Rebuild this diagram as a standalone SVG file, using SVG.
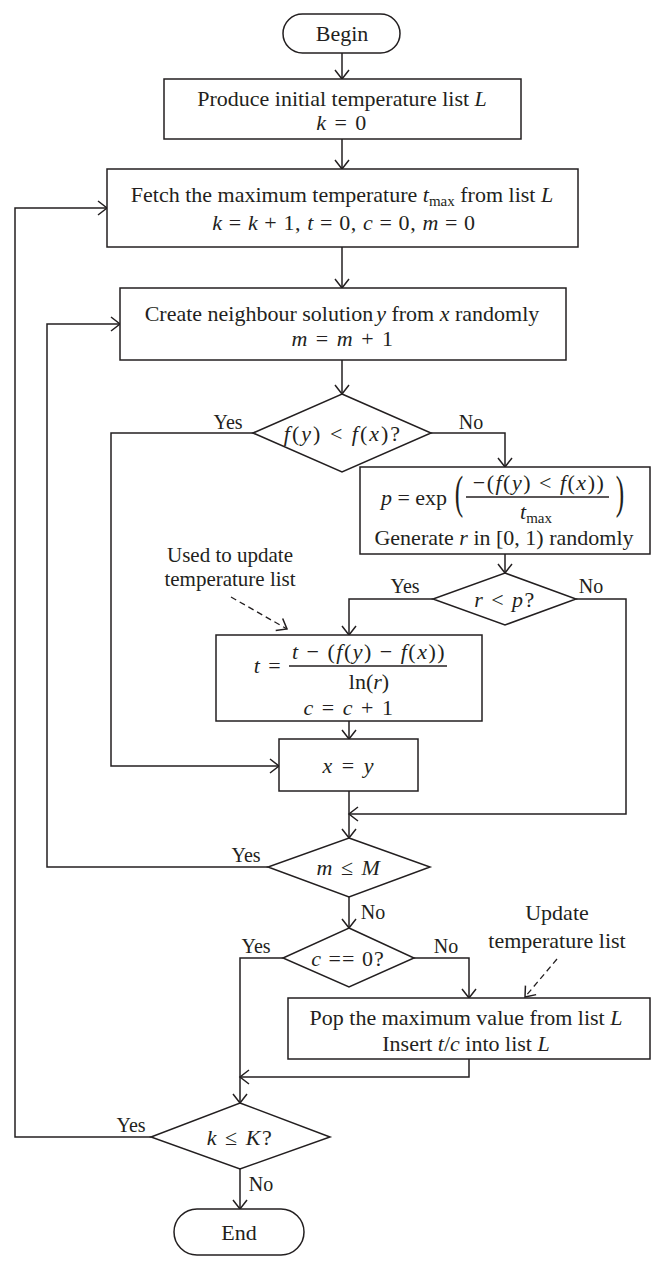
<svg xmlns="http://www.w3.org/2000/svg" width="658" height="1269" viewBox="0 0 658 1269">
<style>
  .n{fill:#fff;stroke:#231f20;stroke-width:1.5}
  .c{fill:none;stroke:#231f20;stroke-width:1.5}
  .d{fill:none;stroke:#231f20;stroke-width:1.3;stroke-dasharray:6,4}
  text{font-family:"Liberation Serif","Times New Roman",serif;font-size:22px;fill:#231f20;text-anchor:middle}
  .l{font-size:20px}
  .i{font-style:italic}
  .s{font-size:15px}
  .m{letter-spacing:1.5px}
  .t{font-size:21px}
</style>
<defs>
  <marker id="a" viewBox="-10 -8 12 16" refX="0" refY="0" markerWidth="12" markerHeight="16" markerUnits="userSpaceOnUse" orient="auto">
    <path d="M-9,-7 L0,0 L-9,7" fill="none" stroke="#231f20" stroke-width="1.5"/>
  </marker>
</defs>
<rect width="658" height="1269" fill="#fff"/>
<g id="connectors">
  <path class="c" d="M342,53 V79" marker-end="url(#a)"/>
  <path class="c" d="M342,139 V169" marker-end="url(#a)"/>
  <path class="c" d="M342,247 V288" marker-end="url(#a)"/>
  <path class="c" d="M342,360 V394" marker-end="url(#a)"/>
  <path class="c" d="M253,433 H111 V766 H279" marker-end="url(#a)"/>
  <path class="c" d="M431,433 H505 V467" marker-end="url(#a)"/>
  <path class="c" d="M505,554 V573" marker-end="url(#a)"/>
  <path class="c" d="M433,599 H349 V635" marker-end="url(#a)"/>
  <path class="c" d="M576,599 H626 V814 H349" marker-end="url(#a)"/>
  <path class="d" d="M231,597 L287,629" marker-end="url(#a)"/>
  <path class="c" d="M349,721 V739" marker-end="url(#a)"/>
  <path class="c" d="M349,791 V838" marker-end="url(#a)"/>
  <path class="c" d="M268,867 H47 V324 H120" marker-end="url(#a)"/>
  <path class="c" d="M349,897 V928" marker-end="url(#a)"/>
  <path class="c" d="M283,958 H240 V1103" marker-end="url(#a)"/>
  <path class="c" d="M414,958 H469 V998" marker-end="url(#a)"/>
  <path class="c" d="M469,1059 V1077 H240" marker-end="url(#a)"/>
  <path class="d" d="M557,959 L525,997" marker-end="url(#a)"/>
  <path class="c" d="M151,1137 H15 V208 H107" marker-end="url(#a)"/>
  <path class="c" d="M240,1169 V1209" marker-end="url(#a)"/>
  <text class="l" x="228" y="429">Yes</text>
  <text class="l" x="471" y="429">No</text>
  <text class="l" x="405" y="593">Yes</text>
  <text class="l" x="591" y="593">No</text>
  <text class="l" x="246" y="862">Yes</text>
  <text class="l" x="373" y="919">No</text>
  <text class="l" x="256" y="953">Yes</text>
  <text class="l" x="446" y="953">No</text>
  <text class="l" x="131" y="1132">Yes</text>
  <text class="l" x="261" y="1191">No</text>
</g>
<g id="begin">
  <rect class="n" x="283" y="14" width="117" height="39" rx="19.5"/>
  <text x="342" y="41">Begin</text>
</g>
<g id="init">
  <rect class="n" x="164" y="79" width="357" height="60"/>
  <text x="342" y="106">Produce initial temperature list <tspan class="i">L</tspan></text>
  <text x="342" y="130" class="m"><tspan class="i">k</tspan> = 0</text>
</g>
<g id="fetch">
  <rect class="n" x="107" y="169" width="471" height="78"/>
  <text x="342" y="202">Fetch the maximum temperature <tspan class="i">t</tspan><tspan class="s" dy="4">max</tspan><tspan dy="-4"> from list </tspan><tspan class="i">L</tspan></text>
  <text x="344" y="230" style="letter-spacing:0.6px"><tspan class="i">k</tspan> = <tspan class="i">k</tspan> + 1, <tspan class="i">t</tspan> = 0, <tspan class="i">c</tspan> = 0, <tspan class="i">m</tspan> = 0</text>
</g>
<g id="neighbour">
  <rect class="n" x="120" y="288" width="446" height="72"/>
  <text x="342" y="321">Create neighbour solution<tspan class="i" dx="3">y</tspan> from <tspan class="i">x</tspan> randomly</text>
  <text x="343" y="346" class="m"><tspan class="i">m</tspan> = <tspan class="i">m</tspan> + 1</text>
</g>
<g id="dec-f">
  <polygon class="n" points="342,394 431,433 342,472 253,433"/>
  <text x="343" y="441" style="letter-spacing:2px"><tspan class="i">f</tspan>(<tspan class="i">y</tspan>) &lt; <tspan class="i">f</tspan>(<tspan class="i">x</tspan>)?</text>
</g>
<g id="prob">
  <rect class="n" x="360" y="467" width="290" height="87"/>
  <text x="414" y="505"><tspan class="i">p</tspan> = exp</text>
  <text transform="translate(459,508) scale(0.55,1)" style="font-size:46px">(</text>
  <text x="539" y="490" style="letter-spacing:1.5px">−(<tspan class="i">f</tspan>(<tspan class="i">y</tspan>) &lt; <tspan class="i">f</tspan>(<tspan class="i">x</tspan>))</text>
  <path class="c" d="M466,497 H609"/>
  <text x="536" y="519"><tspan class="i">t</tspan><tspan class="s" dy="4">max</tspan></text>
  <text transform="translate(620,508) scale(0.55,1)" style="font-size:46px">)</text>
  <text x="504" y="545">Generate <tspan class="i">r</tspan> in [0, 1) randomly</text>
</g>
<g id="dec-r">
  <polygon class="n" points="505,573 576,599 505,625 433,599"/>
  <text x="505" y="607" class="m"><tspan class="i">r</tspan> &lt; <tspan class="i">p</tspan>?</text>
</g>
<g id="note1">
  <text class="t" x="230" y="562">Used to update</text>
  <text class="t" x="230" y="586">temperature list</text>
</g>
<g id="temp">
  <rect class="n" x="216" y="635" width="266" height="86"/>
  <text x="268" y="673" class="m"><tspan class="i">t</tspan> =</text>
  <text x="369" y="659" style="letter-spacing:1.5px"><tspan class="i">t</tspan> − (<tspan class="i">f</tspan>(<tspan class="i">y</tspan>) − <tspan class="i">f</tspan>(<tspan class="i">x</tspan>))</text>
  <path class="c" d="M289,666 H447"/>
  <text x="369" y="689">ln(<tspan class="i">r</tspan>)</text>
  <text x="349" y="715" class="m"><tspan class="i">c</tspan> = <tspan class="i">c</tspan> + 1</text>
</g>
<g id="assign">
  <rect class="n" x="279" y="739" width="139" height="52"/>
  <text x="349" y="773" style="letter-spacing:2px"><tspan class="i">x</tspan> = <tspan class="i">y</tspan></text>
</g>
<g id="dec-m">
  <polygon class="n" points="349,838 430,867 349,897 268,867"/>
  <text x="349" y="875" class="m"><tspan class="i">m</tspan> ≤ <tspan class="i">M</tspan></text>
</g>
<g id="dec-c">
  <polygon class="n" points="349,928 414,958 349,987 283,958"/>
  <text x="348" y="966" style="letter-spacing:1px"><tspan class="i">c</tspan> == 0?</text>
</g>
<g id="note2">
  <text x="557" y="920">Update</text>
  <text x="557" y="948">temperature list</text>
</g>
<g id="update">
  <rect class="n" x="288" y="998" width="362" height="61"/>
  <text x="466" y="1025">Pop the maximum value from list <tspan class="i">L</tspan></text>
  <text x="466" y="1051">Insert <tspan class="i">t</tspan>/<tspan class="i">c</tspan> into list <tspan class="i">L</tspan></text>
</g>
<g id="dec-k">
  <polygon class="n" points="240,1103 330,1137 240,1169 151,1137"/>
  <text x="240" y="1145" class="m"><tspan class="i">k</tspan> ≤ <tspan class="i">K</tspan>?</text>
</g>
<g id="end">
  <rect class="n" x="174" y="1209" width="130" height="46" rx="23"/>
  <text x="239" y="1240">End</text>
</g>
</svg>
